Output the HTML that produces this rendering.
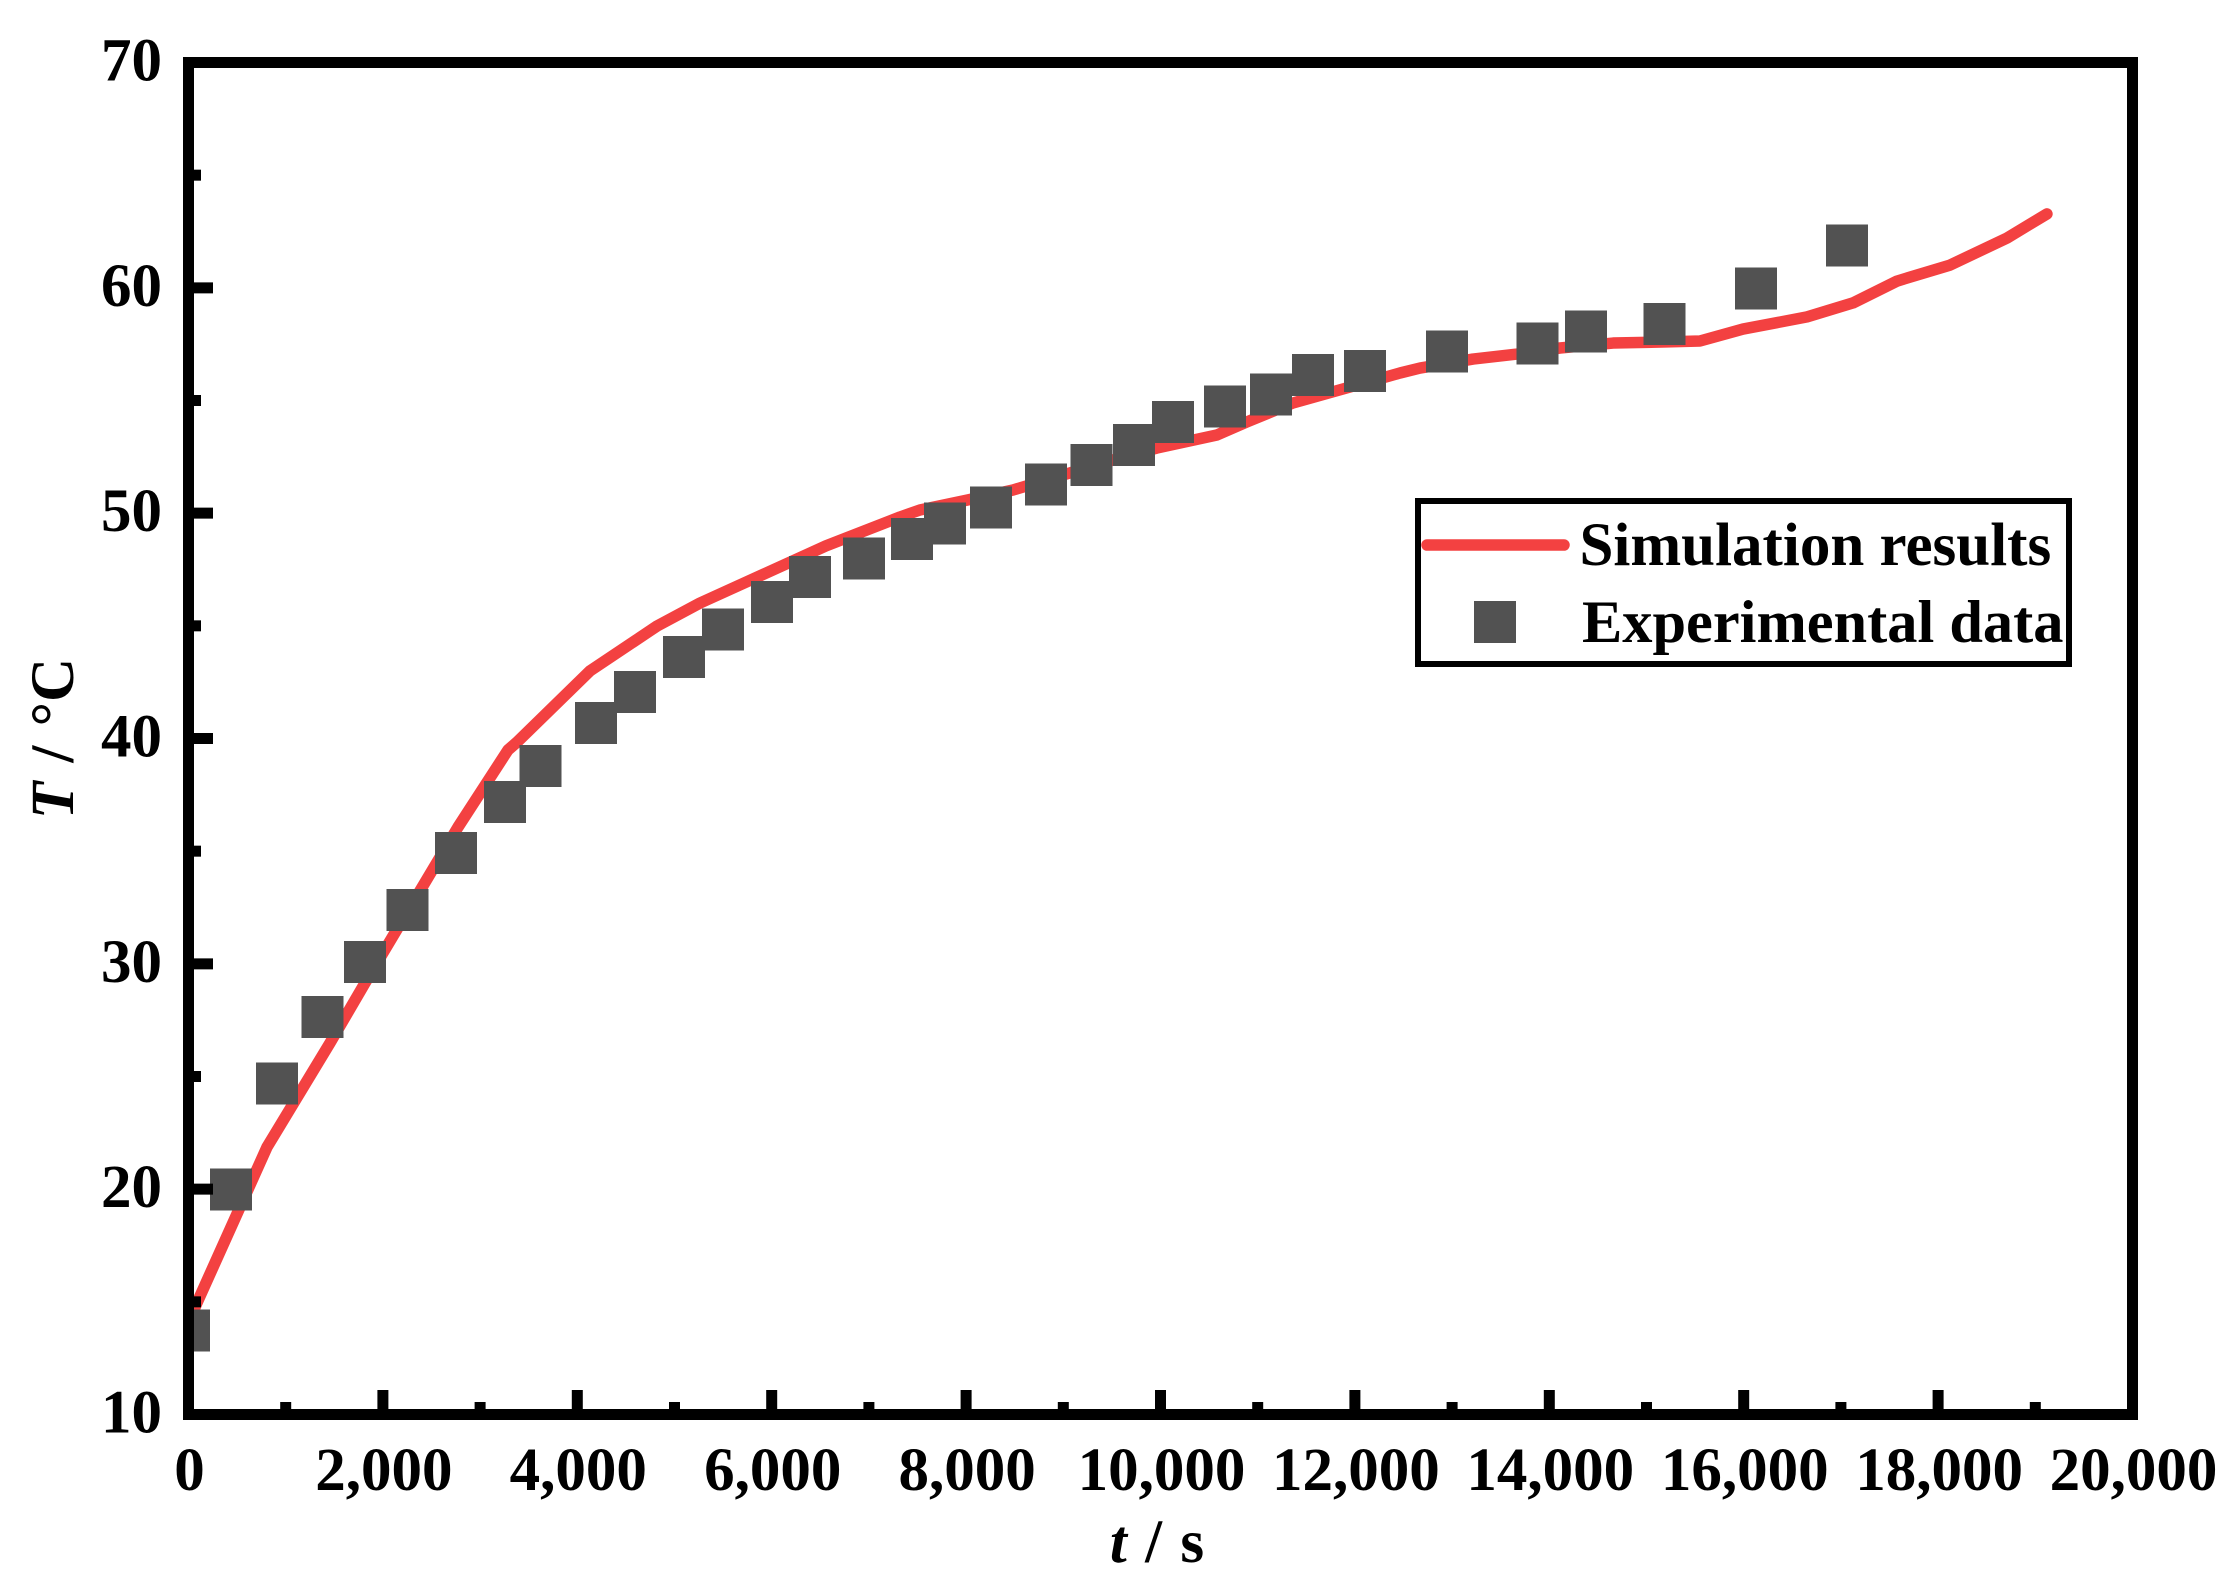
<!DOCTYPE html>
<html lang="en">
<head>
<meta charset="utf-8">
<title>Temperature vs time: simulation and experiment</title>
<style>
  html, body { margin: 0; padding: 0; background: #ffffff; }
  svg { display: block; }
  text { font-family: "Liberation Serif", serif; font-weight: bold; font-size: 61px; fill: #000000; }
</style>
</head>
<body>
<svg id="chart" xmlns="http://www.w3.org/2000/svg" width="2240" height="1596" viewBox="0 0 2240 1596">
  <defs>
    <clipPath id="plot-clip"><rect x="188.5" y="62.5" width="1944" height="1352"></rect></clipPath>
  </defs>
  <rect x="0" y="0" width="2240" height="1596" fill="#ffffff"></rect>
  <g id="series-layer" clip-path="url(#plot-clip)"></g>
  <g id="tick-layer"></g>
  <rect x="188.5" y="62.5" width="1944" height="1352" fill="none" stroke="#000000" stroke-width="11"></rect>
  <g id="label-layer"></g>
  <text x="1157" y="1562" text-anchor="middle" word-spacing="3" xml:space="preserve"><tspan font-style="italic">t</tspan> / s</text>
  <text transform="translate(73,738.5) rotate(-90)" text-anchor="middle" word-spacing="4" xml:space="preserve"><tspan font-style="italic">T</tspan> / °C</text>
  <g>
    <rect x="1418" y="501" width="651" height="163" fill="#ffffff" stroke="#000000" stroke-width="6"></rect>
    <line x1="1427" y1="545" x2="1564" y2="545" stroke="#f34141" stroke-width="11.5" stroke-linecap="round"></line>
    <text x="1579.5" y="565">Simulation results</text>
    <rect x="1474" y="601" width="42" height="42" fill="#525252" shape-rendering="crispEdges"></rect>
    <text x="1582" y="642" style="font-size:60.4px">Experimental data</text>
  </g>
</svg>
<script>
const simTime = [0, 87, 808, 1456, 1816, 2773, 3287, 3380, 4131, 4820, 5262, 6558, 7320, 7525, 8009, 8483, 9511, 9963, 10580, 10890, 11363, 11950, 12464, 12670, 13215, 13668, 14110, 14656, 15211, 15550, 15993, 16652, 17125, 17578, 18123, 18709, 19120];
const simTemp = [14.1, 14.95, 21.87, 26.49, 29.15, 36.07, 39.49, 39.84, 43.0, 44.99, 46.01, 48.55, 49.83, 50.14, 50.58, 51.03, 52.36, 52.89, 53.47, 54.05, 54.89, 55.6, 56.22, 56.44, 56.84, 57.06, 57.33, 57.55, 57.6, 57.64, 58.17, 58.71, 59.33, 60.3, 61.01, 62.21, 63.28];
const expTime = [5, 437, 910, 1379, 1816, 2253, 2752, 3256, 3621, 4192, 4594, 5098, 5499, 6003, 6394, 6949, 7443, 7783, 8256, 8822, 9290, 9727, 10128, 10664, 11137, 11569, 12104, 12948, 13879, 14378, 15185, 16127, 17063];
const expTemp = [13.73, 19.99, 24.69, 27.64, 30.08, 32.39, 34.92, 37.18, 38.78, 40.69, 42.06, 43.62, 44.84, 46.06, 47.17, 47.98, 48.85, 49.54, 50.25, 51.27, 52.14, 53.03, 54.05, 54.73, 55.27, 56.13, 56.31, 57.18, 57.53, 58.06, 58.4, 59.97, 61.88];
const xTickValues = [0, 2000, 4000, 6000, 8000, 10000, 12000, 14000, 16000, 18000, 20000];
const xTickLabels = ["0", "2,000", "4,000", "6,000", "8,000", "10,000", "12,000", "14,000", "16,000", "18,000", "20,000"];
const xMinorValues = [1000, 3000, 5000, 7000, 9000, 11000, 13000, 15000, 17000, 19000];
const yTickValues = [10, 20, 30, 40, 50, 60, 70];
const yTickLabels = ["10", "20", "30", "40", "50", "60", "70"];
const yMinorValues = [15, 25, 35, 45, 55, 65];

const NS = "http://www.w3.org/2000/svg";
const plotLeft = 188.5, plotRight = 2132.5, plotTop = 62.5, plotBottom = 1414.5;
const xMin = 0, xMax = 20000, yMin = 10, yMax = 70;
function xScale(v) { return plotLeft + (v - xMin) / (xMax - xMin) * (plotRight - plotLeft); }
function yScale(v) { return plotBottom - (v - yMin) / (yMax - yMin) * (plotBottom - plotTop); }

const seriesLayer = document.getElementById("series-layer");
const tickLayer = document.getElementById("tick-layer");
const labelLayer = document.getElementById("label-layer");

const simLine = document.createElementNS(NS, "polyline");


simLine.setAttribute("points", simTime.map(function (t, i) { return xScale(t).toFixed(2) + "," + yScale(simTemp[i]).toFixed(2); }).join(" "));
simLine.setAttribute("fill", "none");
simLine.setAttribute("stroke", "#f34141");
simLine.setAttribute("stroke-width", "11.5");
simLine.setAttribute("stroke-linecap", "round");
simLine.setAttribute("stroke-linejoin", "round");
seriesLayer.appendChild(simLine);

expTime.forEach(function (t, i) {
  const marker = document.createElementNS(NS, "rect");
  
  
  marker.setAttribute("x", xScale(t) - 21);
  marker.setAttribute("y", yScale(expTemp[i]) - 21);
  marker.setAttribute("width", 42);
  marker.setAttribute("height", 42);
  marker.setAttribute("fill", "#525252");
  marker.setAttribute("shape-rendering", "crispEdges");
  seriesLayer.appendChild(marker);
});

function addXTick(value, length, name) {
  const tick = document.createElementNS(NS, "line");
  
  
  tick.setAttribute("x1", xScale(value));
  tick.setAttribute("x2", xScale(value));
  tick.setAttribute("y1", plotBottom);
  tick.setAttribute("y2", plotBottom - length);
  tick.setAttribute("stroke", "#000000");
  tick.setAttribute("stroke-width", "11");
  tickLayer.appendChild(tick);
}
function addYTick(value, length, name) {
  const tick = document.createElementNS(NS, "line");
  
  
  tick.setAttribute("x1", plotLeft);
  tick.setAttribute("x2", plotLeft + length);
  tick.setAttribute("y1", yScale(value));
  tick.setAttribute("y2", yScale(value));
  tick.setAttribute("stroke", "#000000");
  tick.setAttribute("stroke-width", "11");
  tickLayer.appendChild(tick);
}

xTickValues.forEach(function (v, i) {
  addXTick(v, 24.5, 'x-major-tick');
  const label = document.createElementNS(NS, "text");
  
  
  label.setAttribute("x", xScale(v) + 1);
  label.setAttribute("y", 1490);
  label.setAttribute("text-anchor", "middle");
  label.textContent = xTickLabels[i];
  labelLayer.appendChild(label);
});
xMinorValues.forEach(function (v) {
  addXTick(v, 12.5, 'x-minor-tick');
});
yTickValues.forEach(function (v, i) {
  addYTick(v, 24.5, 'y-major-tick');
  const label = document.createElementNS(NS, "text");
  
  
  label.setAttribute("x", 162);
  label.setAttribute("y", yScale(v) + 18);
  label.setAttribute("text-anchor", "end");
  label.textContent = yTickLabels[i];
  labelLayer.appendChild(label);
});
yMinorValues.forEach(function (v) {
  addYTick(v, 12.5, 'y-minor-tick');
});
</script>
</body>
</html>
